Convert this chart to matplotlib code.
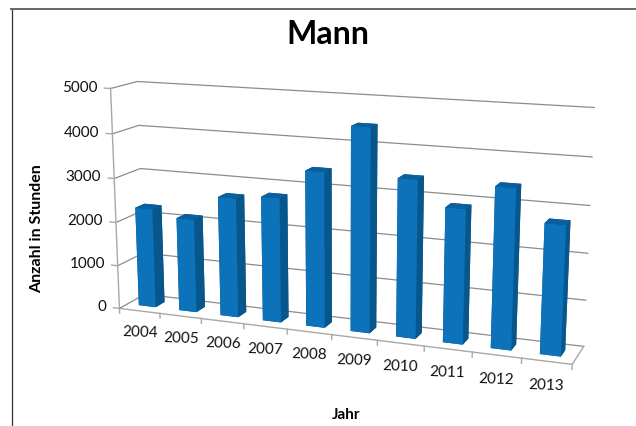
import numpy as np
import matplotlib
matplotlib.use("Agg")
import matplotlib.pyplot as plt
from matplotlib.lines import Line2D
from mpl_toolkits.mplot3d import proj3d

plt.rcParams['font.family'] = ['Lato', 'DejaVu Sans']

jahre = ['2004', '2005', '2006', '2007', '2008', '2009', '2010', '2011', '2012', '2013']
stunden = [2280, 2130, 2695, 2785, 3435, 4455, 3430, 2900, 3420, 2750]
yticks = [0, 1000, 2000, 3000, 4000, 5000]

FRONT = '#0c72b9'
SIDE = '#07568c'
TOP = '#0a5f9c'
GRID = '#8c8c8c'
AXIS = '#a8a8a8'

W = 636
H = 426
fig = plt.figure(figsize=(W / 100, H / 100), dpi=100)
fig.patch.set_facecolor('white')

size = 636
cx, cy = 333, 223
ax = fig.add_axes([(cx - size / 2) / W, 1 - (cy + size / 2) / H, size / W, size / H],
                  projection='3d', computed_zorder=False)
ax.set_proj_type('persp', focal_length=0.395)
ax.view_init(elev=13.6, azim=-69)
box = np.array([1.412, 0.16, 0.685])
ax.set_box_aspect(box, zoom=np.linalg.norm(box) / (1.8294640721620434 * 25 / 24))
ax.set_xlim(0, 10)
ax.set_ylim(0, 1)
ax.set_zlim(0, 5000)
ax.set_xticks([])
ax.set_yticks([])
ax.set_zticks([])
ax.set_axis_off()


def beschriftung(x, y, z, text, ha, rotation=0):
    x2, y2, _ = proj3d.proj_transform(x, y, z, ax.get_proj())
    ax.text2D(x2, y2, text, transform=ax.transData, ha=ha, va='center', fontsize=11,
              rotation=rotation, color='#111111')


# gitter
for z in yticks:
    ax.plot([0, 0, 10], [0, 1, 1], [z, z, z], color=GRID, lw=0.9, zorder=1)
    ax.plot([-0.15, 0], [0, 0], [z, z], color=AXIS, lw=1, zorder=1)
    beschriftung(-0.32, 0, z, str(z), 'right')
ax.plot([0, 0], [0, 0], [0, 5000], color=AXIS, lw=1, zorder=1)
ax.plot([0, 10, 10], [0, 0, 1], [0, 0, 0], color=AXIS, lw=1, zorder=1)

for i in range(len(jahre) + 1):
    ax.plot([i, i], [0, 0], [0, -110], color=AXIS, lw=1, zorder=1)

# balken
for i, wert in enumerate(stunden):
    ax.bar3d(i + 0.28, 0.32, 0, 0.42, 0.36, wert,
             color=[SIDE, TOP, FRONT, SIDE, SIDE, SIDE],
             edgecolor='none', shade=False, zorder=2 + i)
    beschriftung(i + 0.5, 0, -520, jahre[i], 'center', rotation=-2)

fig.text(328 / W, 1 - 35 / H, 'Mann', ha='center', va='center', fontsize=23, fontweight='bold')
fig.text(37 / W, 1 - 229 / H, 'Anzahl in Stunden', ha='center', va='center', rotation=90,
         fontsize=11.5, fontweight='bold')
fig.text(346 / W, 1 - 415 / H, 'Jahr', ha='center', va='center', fontsize=11, fontweight='bold')

# rahmen
fig.add_artist(Line2D([11.5 / W, 11.5 / W], [0, 1 - 9 / H], color='#333333', lw=0.9))
fig.add_artist(Line2D([11 / W, 1], [1 - 9 / H, 1 - 9 / H], color='#666666', lw=1.4))

fig.savefig('out.png', dpi=100)
